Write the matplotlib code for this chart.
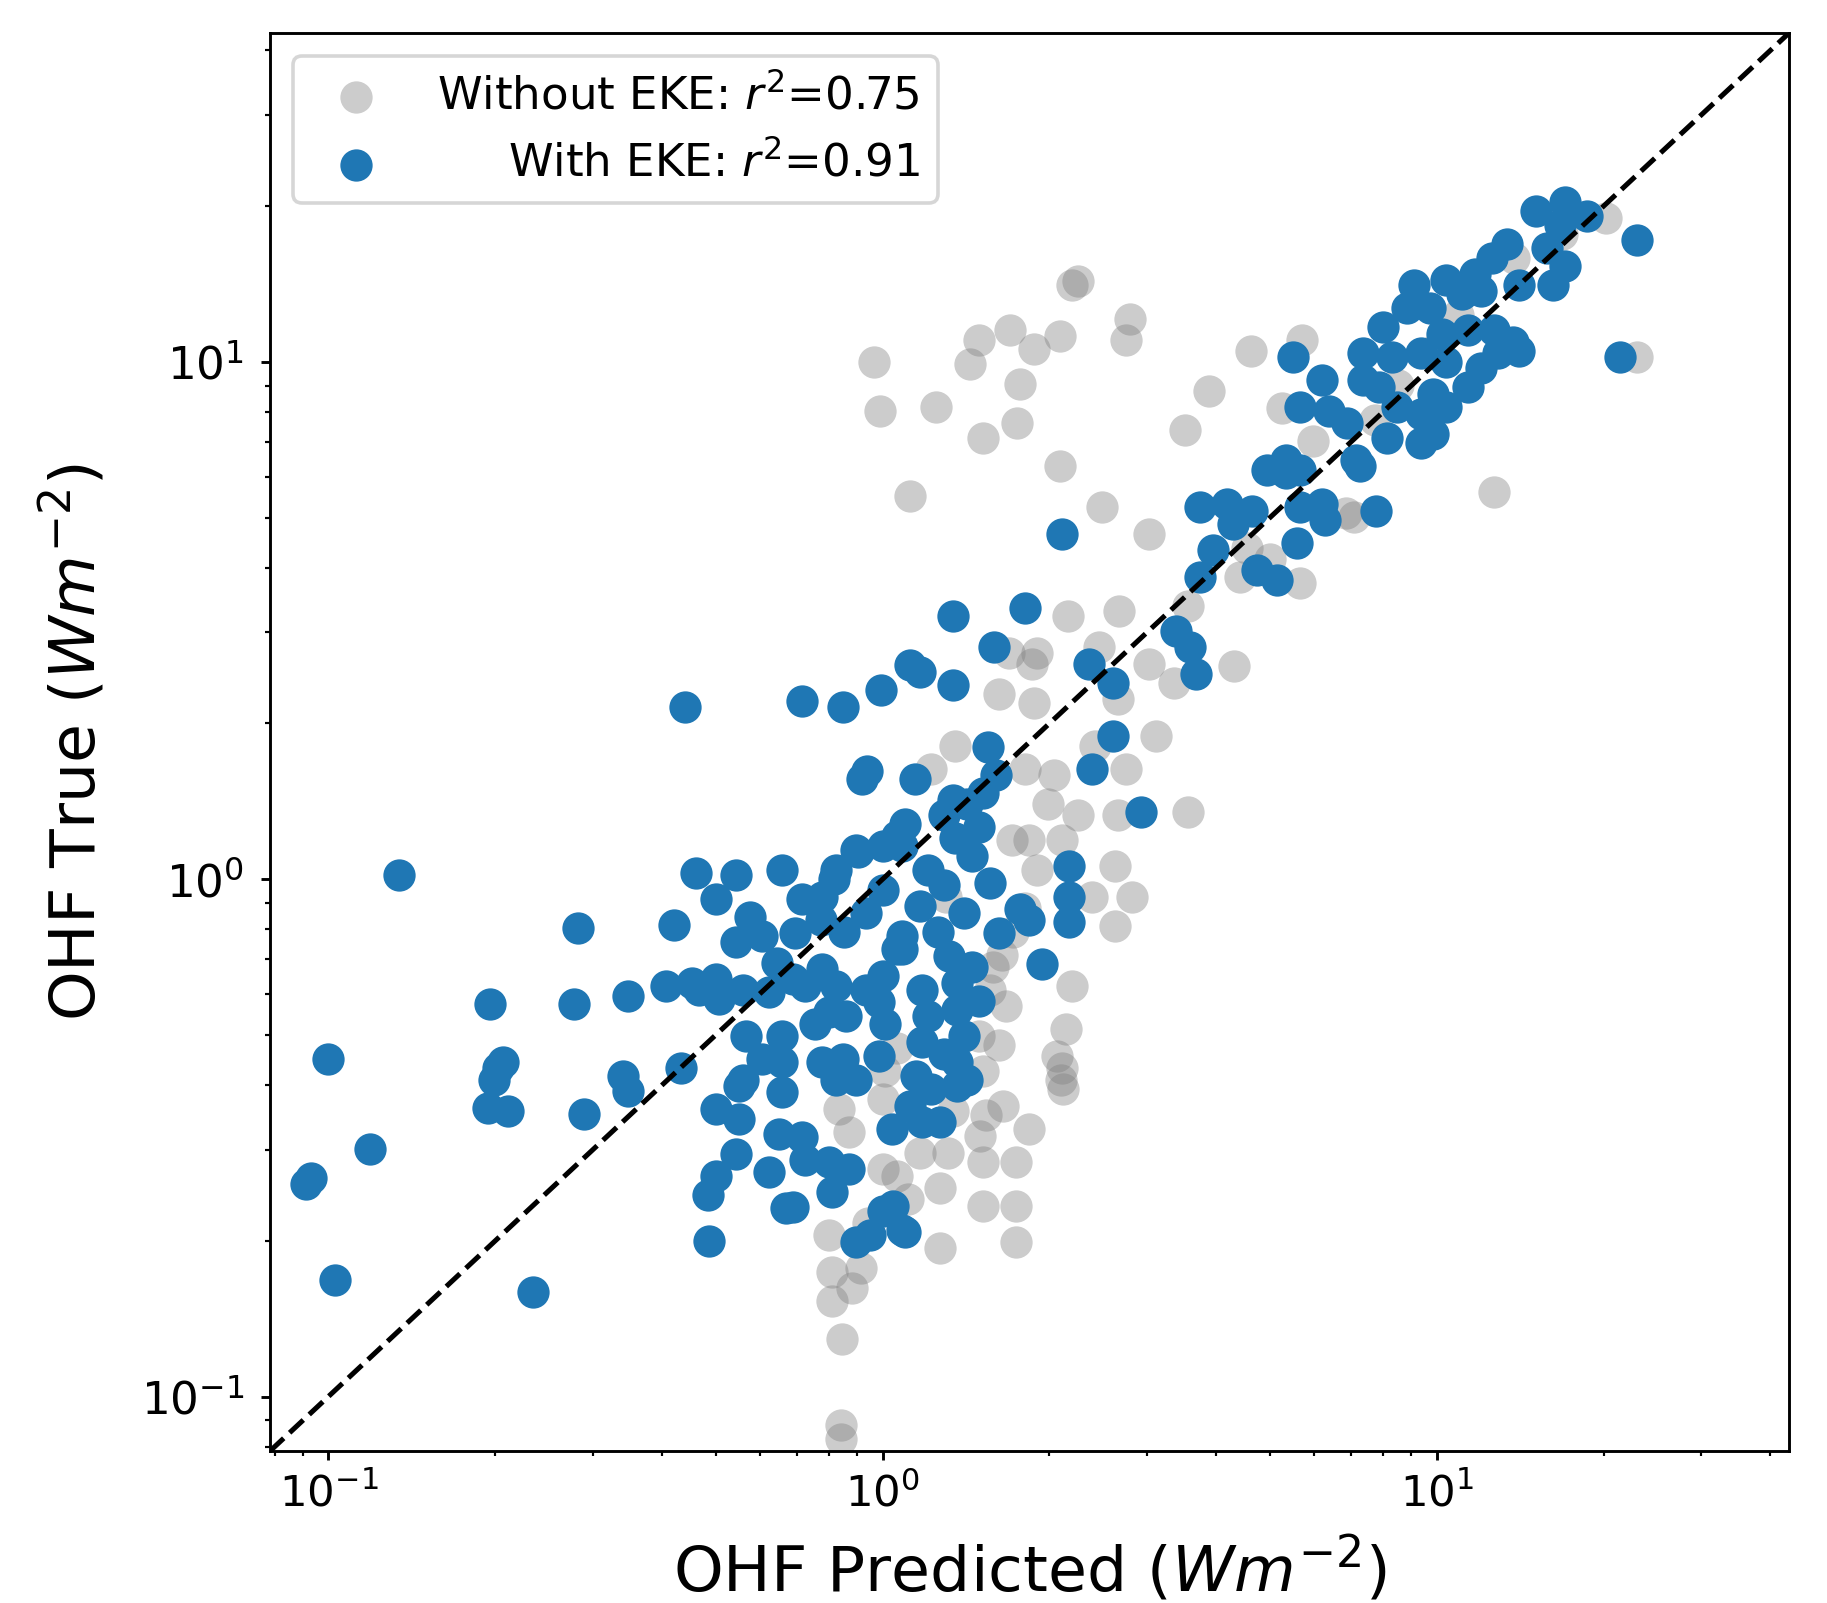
import matplotlib
matplotlib.use("Agg")
import matplotlib.pyplot as plt

# ---------------------------------------------------------------------------
# Data
# ---------------------------------------------------------------------------
# OHF predicted / true (W m^-2), model without EKE
pred_no_eke = [
    0.967, 0.990, 1.25, 1.52, 1.75, 1.77, 1.70, 1.49, 1.44, 1.88,
    2.09, 2.20, 2.25, 2.80, 2.75, 2.09, 1.12, 2.49, 3.02, 3.51,
    3.88, 4.63, 2.16, 2.67, 4.30, 1.86, 3.02, 2.46, 3.36, 7.09,
    3.12, 2.75, 4.41, 5.67, 5.72, 5.99, 12.7, 23.0, 20.2, 3.56,
    2.63, 2.82, 2.63, 2.39, 2.20, 2.14, 2.06, 2.11, 1.62, 1.67,
    1.58, 1.30, 1.90, 1.84, 2.11, 1.71, 2.12, 1.84, 1.65, 1.50,
    1.52, 1.74, 1.27, 1.52, 1.74, 1.74, 1.27, 1.06, 0.836, 0.869,
    1.00, 1.00, 0.800, 0.812, 0.881, 0.844, 0.840, 0.840, 1.54, 1.31,
    1.34, 2.10, 0.812, 1.62, 1.88, 1.69, 2.04, 1.81, 1.99, 1.72,
    1.81, 1.64, 1.56, 1.52, 1.49, 1.06, 1.01, 1.17, 1.11, 0.940,
    0.916, 13.8, 10.9, 8.52, 7.74, 16.8, 9.86, 5.25, 4.54, 6.85,
    5.00, 3.56, 2.66, 2.42, 2.25, 2.66, 1.90, 1.35, 1.225,
]
true_no_eke = [
    10.0, 8.04, 8.17, 7.14, 7.60, 9.07, 11.5, 11.0, 9.90, 10.6,
    11.2, 14.1, 14.3, 12.1, 11.0, 6.28, 5.50, 5.23, 4.65, 7.37,
    8.79, 10.5, 3.22, 3.30, 2.58, 2.61, 2.61, 2.81, 2.40, 5.02,
    1.89, 1.63, 3.84, 3.74, 11.0, 7.03, 5.60, 10.2, 19.0, 1.35,
    1.06, 0.925, 0.813, 0.925, 0.621, 0.513, 0.456, 0.431, 0.478, 0.570,
    0.678, 0.925, 1.04, 1.19, 1.19, 1.19, 0.394, 0.329, 0.365, 0.319,
    0.284, 0.284, 0.253, 0.234, 0.234, 0.199, 0.194, 0.267, 0.359, 0.324,
    0.376, 0.275, 0.205, 0.174, 0.162, 0.129, 0.088, 0.083, 0.350, 0.296,
    0.356, 0.410, 0.153, 2.28, 2.19, 2.74, 1.59, 1.63, 1.40, 0.792,
    0.879, 0.714, 0.612, 0.426, 0.497, 0.472, 0.426, 0.296, 0.241, 0.217,
    0.177, 15.9, 12.3, 9.02, 7.72, 17.7, 10.5, 8.13, 4.37, 5.10,
    4.15, 3.37, 2.23, 1.81, 1.33, 1.33, 2.74, 1.81, 1.63,
]

# OHF predicted / true (W m^-2), model with EKE
pred_eke = [
    0.100, 0.119, 0.091, 0.093, 0.103, 0.234, 0.134, 0.196, 0.278, 0.282,
    0.207, 0.199, 0.194, 0.211, 0.289, 0.348, 0.406, 0.467, 0.420, 0.340,
    0.348, 0.432, 0.441, 0.202, 0.551, 0.460, 0.543, 0.500, 0.659, 0.576,
    0.543, 0.607, 0.716, 0.777, 0.824, 0.894, 1.00, 1.06, 0.934, 1.00,
    0.644, 0.454, 0.500, 0.507, 0.559, 0.625, 0.688, 0.726, 0.777, 0.824,
    0.934, 1.00, 1.06, 1.085, 0.800, 0.860, 0.986, 0.567, 0.607, 0.659,
    0.659, 0.777, 0.848, 0.986, 0.559, 0.500, 0.551, 0.659, 0.650, 0.716,
    0.726, 0.800, 0.869, 0.812, 0.543, 0.500, 0.484, 0.625, 0.688, 0.669,
    0.486, 0.894, 1.00, 1.085, 0.948, 1.04, 0.824, 0.894, 1.18, 1.12,
    1.36, 1.27, 1.045, 1.10, 1.085, 1.21, 1.45, 1.56, 1.40, 1.17,
    2.17, 2.17, 2.17, 1.84, 1.62, 1.77, 1.94, 1.085, 1.32, 1.36,
    1.18, 1.36, 1.21, 1.40, 1.18, 1.36, 1.15, 1.42, 1.29, 1.42,
    1.52, 1.35, 1.49, 1.26, 1.29, 1.45, 1.49, 1.29, 1.225, 1.01,
    0.755, 0.774, 0.852, 0.716, 0.848, 0.995, 1.12, 1.17, 1.34, 1.34,
    1.59, 0.938, 0.920, 1.145, 1.55, 1.10, 1.34, 0.903, 0.816, 0.695,
    1.81, 1.60, 2.36, 2.60, 2.60, 2.39, 2.93, 2.11, 3.39, 3.58,
    3.67, 3.74, 3.94, 4.74, 5.15, 5.59, 3.74, 4.18, 4.28, 4.65,
    5.67, 6.22, 6.28, 7.78, 4.93, 5.35, 7.26, 5.35, 5.67, 7.16,
    8.12, 9.35, 9.86, 6.88, 6.40, 5.67, 6.22, 5.51, 7.37, 7.85,
    8.48, 9.35, 10.4, 9.86, 11.4, 7.37, 8.31, 9.35, 10.4, 12.0,
    12.9, 8.00, 10.2, 11.4, 12.7, 13.7, 14.1, 8.82, 9.72, 11.1,
    12.0, 9.08, 10.4, 11.7, 14.1, 16.2, 17.0, 15.8, 13.4, 12.6,
    15.1, 17.0, 16.7, 18.7, 23.0, 21.4,
]
true_eke = [
    0.449, 0.301, 0.258, 0.264, 0.168, 0.159, 1.02, 0.575, 0.575, 0.805,
    0.444, 0.410, 0.361, 0.356, 0.351, 0.596, 0.621, 0.612, 0.817, 0.417,
    0.390, 0.431, 2.15, 0.431, 0.399, 1.03, 1.02, 0.916, 1.04, 0.847,
    0.756, 0.776, 0.916, 0.925, 1.04, 1.14, 1.16, 1.21, 0.861, 0.955,
    0.689, 0.631, 0.641, 0.587, 0.612, 0.606, 0.641, 0.621, 0.671, 0.621,
    0.612, 0.651, 0.733, 0.776, 0.555, 0.544, 0.578, 0.497, 0.449, 0.497,
    0.444, 0.444, 0.449, 0.456, 0.410, 0.359, 0.344, 0.388, 0.322, 0.317,
    0.287, 0.284, 0.275, 0.249, 0.294, 0.267, 0.245, 0.272, 0.233, 0.232,
    0.200, 0.199, 0.228, 0.210, 0.205, 0.329, 0.410, 0.410, 0.339, 0.365,
    0.398, 0.339, 0.234, 0.208, 1.16, 1.04, 1.11, 0.985, 0.861, 0.888,
    1.06, 0.925, 0.826, 0.834, 0.788, 0.874, 0.685, 0.733, 0.710, 0.631,
    0.612, 0.560, 0.544, 0.497, 0.485, 0.444, 0.417, 0.410, 1.33, 1.40,
    1.47, 1.20, 1.26, 0.792, 0.975, 0.678, 0.581, 0.460, 0.394, 0.524,
    0.524, 0.834, 0.792, 2.21, 2.15, 2.32, 2.59, 2.51, 2.37, 3.22,
    2.81, 1.62, 1.56, 1.56, 1.80, 1.28, 1.42, 1.13, 1.00, 0.788,
    3.34, 1.59, 2.61, 2.40, 1.89, 1.63, 1.35, 4.65, 3.02, 2.81,
    2.49, 3.84, 4.33, 3.96, 3.78, 4.46, 5.23, 5.31, 4.87, 5.15,
    5.23, 5.31, 4.95, 5.15, 6.19, 6.09, 6.28, 6.45, 6.19, 6.45,
    7.14, 6.96, 7.25, 7.60, 8.04, 8.17, 9.21, 10.2, 9.21, 8.93,
    8.17, 7.93, 8.17, 8.65, 8.93, 10.4, 10.2, 10.4, 10.0, 9.75,
    10.4, 11.7, 11.3, 11.5, 11.5, 10.9, 10.5, 12.7, 12.7, 13.5,
    13.7, 14.1, 14.4, 14.8, 14.1, 14.1, 15.3, 16.6, 16.9, 15.9,
    19.6, 20.4, 18.4, 19.1, 17.2, 10.2,
]

R2_NO_EKE = 0.75
R2_EKE = 0.91

# ---------------------------------------------------------------------------
# Layout
# ---------------------------------------------------------------------------
DPI = 260
AX_LIM = (0.0785, 43.2)
BLUE = "#1f77b4"

fig = plt.figure(figsize=(1827 / DPI, 1603 / DPI), dpi=DPI)
ax = fig.add_axes([0.1478, 0.0948, 0.8314, 0.8846])

ax.scatter(pred_no_eke, true_no_eke, s=80, color="gray", alpha=0.4,
           linewidths=0, label=f"Without EKE: $r^2$={R2_NO_EKE:.2f}")
ax.scatter(pred_eke, true_eke, s=80, color=BLUE, linewidths=0,
           label=f"With EKE: $r^2$={R2_EKE:.2f}")

# 1:1 line, corner to corner
ax.plot(AX_LIM, AX_LIM, "k--", lw=1.4, zorder=3)

ax.set_xscale("log")
ax.set_yscale("log")
ax.set_xlim(AX_LIM)
ax.set_ylim(AX_LIM)

ax.set_xlabel("OHF Predicted ($Wm^{-2}$)", fontsize=17.5, labelpad=5)
ax.set_ylabel("OHF True ($Wm^{-2}$)", fontsize=17.5, labelpad=9)
ax.tick_params(which="major", labelsize=12, length=2.6)
ax.tick_params(axis="y", which="major", labelsize=12.5, pad=4.5)
ax.tick_params(which="minor", length=1.5)

leg = ax.legend(loc="upper left", fontsize=12.5)

# right-align the legend labels
fig.canvas.draw()
renderer = fig.canvas.get_renderer()
texts = leg.get_texts()
widths = [t.get_window_extent(renderer).width for t in texts]
for t, w in zip(texts, widths):
    t.set_position((max(widths) - w, 0))

fig.savefig("out.png", dpi=DPI)
plt.close(fig)
